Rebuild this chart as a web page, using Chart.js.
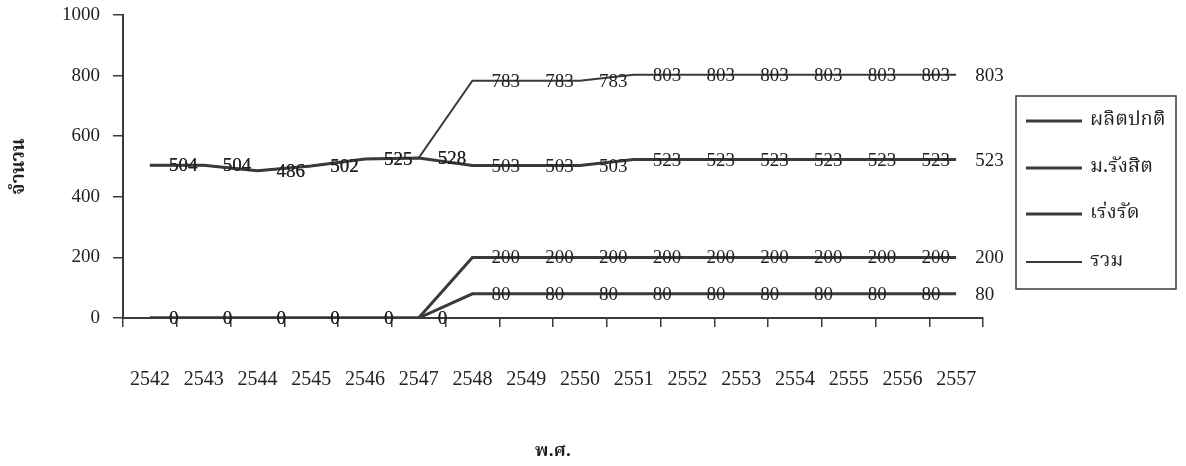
<!DOCTYPE html>
<html>
<head>
<meta charset="utf-8">
<script src="https://cdn.jsdelivr.net/npm/chart.js@4.4.1/dist/chart.umd.min.js"></script>
<style>
  html, body { margin: 0; padding: 0; background: #ffffff; }
  #wrap { width: 1186px; height: 466px; }
</style>
</head>
<body>
<div id="wrap"><canvas id="c" width="1186" height="466"></canvas></div>
<script>
// Years (Buddhist era)
const years = ['2542','2543','2544','2545','2546','2547','2548','2549','2550','2551','2552','2553','2554','2555','2556','2557'];

// Series values
const normalProd  = [504, 504, 486, 502, 525, 528, 503, 503, 503, 523, 523, 523, 523, 523, 523, 523];
const rangsit     = [0, 0, 0, 0, 0, 0, 80, 80, 80, 80, 80, 80, 80, 80, 80, 80];
const accelerated = [0, 0, 0, 0, 0, 0, 200, 200, 200, 200, 200, 200, 200, 200, 200, 200];
const total       = [504, 504, 486, 502, 525, 528, 783, 783, 783, 803, 803, 803, 803, 803, 803, 803];

// Series names and y-axis tick values
const seriesNames = ['ผลิตปกติ', 'ม.รังสิต', 'เร่งรัด', 'รวม'];
const yTicks = [0, 200, 400, 600, 800, 1000];

const INK = '#3a3a3a';
const TEXT = '#222222';
const NUM_FONT = "'Liberation Serif', 'Times New Roman', serif";
const THAI_FONT = "'Noto Serif Thai', 'Noto Sans Thai', 'Loma', 'Garuda', 'Norasi', 'DejaVu Sans', sans-serif";

// Value labels placed just right of each point
const valueLabels = {
  id: 'valueLabels',
  afterDatasetsDraw(chart) {
    const ctx = chart.ctx;
    ctx.save();
    ctx.font = '19px ' + NUM_FONT;
    ctx.fillStyle = TEXT;
    ctx.textAlign = 'left';
    ctx.textBaseline = 'middle';
    chart.data.datasets.forEach((ds, i) => {
      const meta = chart.getDatasetMeta(i);
      meta.data.forEach((pt, j) => {
        ctx.fillText(String(ds.data[j]), pt.x + 19, pt.y + 1);
      });
    });
    ctx.restore();
  }
};

// Boxed legend to the right of the plot
const boxLegend = {
  id: 'boxLegend',
  afterDraw(chart) {
    const ctx = chart.ctx;
    const box = { x: 1016, y: 96, w: 160, h: 193 };
    const rows = [121, 168, 214, 262];
    ctx.save();
    ctx.strokeStyle = INK;
    ctx.lineWidth = 1.5;
    ctx.strokeRect(box.x, box.y, box.w, box.h);
    chart.data.datasets.forEach((ds, i) => {
      const y = rows[i];
      ctx.strokeStyle = ds.borderColor;
      ctx.lineWidth = ds.borderWidth;
      ctx.beginPath();
      ctx.moveTo(1026, y);
      ctx.lineTo(1082, y);
      ctx.stroke();
      ctx.fillStyle = TEXT;
      ctx.font = '20px ' + THAI_FONT;
      ctx.textAlign = 'left';
      ctx.textBaseline = 'middle';
      ctx.fillText(ds.label, 1090, y + 1);
    });
    ctx.restore();
  }
};

const seriesData = [normalProd, rangsit, accelerated, total];
const widths = [3, 3, 3, 2];

new Chart(document.getElementById('c'), {
  type: 'line',
  data: {
    labels: years,
    datasets: seriesData.map((d, i) => ({
      label: seriesNames[i],
      data: d,
      borderColor: INK,
      borderWidth: widths[i],
      pointRadius: 0,
      tension: 0,
      fill: false
    }))
  },
  options: {
    responsive: false,
    devicePixelRatio: 1,
    animation: false,
    layout: { padding: { left: 0, right: 203, top: 15, bottom: 0 } },
    plugins: {
      legend: { display: false },
      tooltip: { enabled: false }
    },
    scales: {
      x: {
        type: 'category',
        offset: true,
        grid: { display: true, drawOnChartArea: false, offset: true, tickLength: 9, color: INK, lineWidth: 1.5 },
        border: { display: true, color: INK, width: 2 },
        ticks: { padding: 41, color: TEXT, font: { family: NUM_FONT, size: 20 }, maxRotation: 0, autoSkip: false },
        title: { display: true, text: 'พ.ศ.', color: TEXT, font: { family: THAI_FONT, size: 18, weight: 'bold' }, padding: { top: 0, bottom: 2 } },
        afterFit(scale) { scale.height = 148; scale.paddingLeft = 0; scale.paddingRight = 0; }
      },
      y: {
        min: 0,
        max: 1000,
        afterBuildTicks(scale) { scale.ticks = yTicks.map(v => ({ value: v })); },
        grid: { display: true, drawOnChartArea: false, tickLength: 10, color: INK, lineWidth: 1.5 },
        border: { display: true, color: INK, width: 2 },
        ticks: { padding: 13, color: TEXT, font: { family: NUM_FONT, size: 19 }, callback: v => String(v) },
        title: { display: true, text: 'จำนวน', color: TEXT, font: { family: THAI_FONT, size: 19, weight: 'bold' }, padding: { top: 9, bottom: 0 } },
        afterFit(scale) { scale.width = 123; scale.paddingTop = 0; scale.paddingBottom = 0; }
      }
    }
  },
  plugins: [valueLabels, boxLegend]
});
</script>
</body>
</html>
